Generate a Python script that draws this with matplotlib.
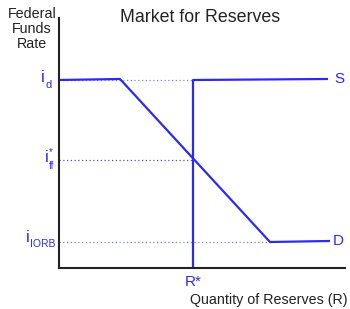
import matplotlib
matplotlib.use("Agg")
import matplotlib.pyplot as plt

plt.rcParams['font.family'] = ['Liberation Sans', 'DejaVu Sans']

# Data (conceptual units)
demand_x = [0, 61, 211, 271]
demand_y = [188, 189, 26, 27]
supply_x = [134, 134, 269]
supply_y = [0, 188, 189]
r_star = 134
i_d = 188
i_ff = 108
i_iorb = 26

blue = '#2b2bf0'

fig = plt.figure(figsize=(3.5, 3.09), dpi=100)
ax = fig.add_axes([59/350, 41/309, 286/350, 250/309])
ax.set_xlim(0, 286)
ax.set_ylim(0, 250)
for s in ['top', 'right']:
    ax.spines[s].set_visible(False)
for s in ['left', 'bottom']:
    ax.spines[s].set_linewidth(1.5)
    ax.spines[s].set_color('#222222')
ax.set_xticks([])
ax.set_yticks([])

# dotted guides
ax.plot([0, r_star], [i_d, i_d], color='#8080e0', lw=0.9, ls=(0, (1, 2)))
ax.plot([0, r_star], [i_ff, i_ff], color='#5050b0', lw=0.9, ls=(0, (1, 2)))
ax.plot([0, demand_x[2]], [i_iorb, i_iorb], color='#8080e0', lw=0.9, ls=(0, (1, 2)))

ax.plot(demand_x, demand_y, color=blue, lw=1.6, solid_capstyle='butt')
ax.plot(supply_x, supply_y, color=blue, lw=1.6, solid_capstyle='butt')

# curve labels
ax.text(supply_x[-1] + 6, supply_y[-1], 'S', color=blue, fontsize=11, va='center', ha='left')
ax.text(demand_x[-1] + 3, demand_y[-1], 'D', color=blue, fontsize=11, va='center', ha='left')

# axis value labels
ax.text(-14, i_d + 3, 'i', color=blue, fontsize=12, va='center', ha='right')
ax.text(-14, i_d - 5, 'd', color=blue, fontsize=8, va='center', ha='left')
ax.text(-10, i_ff + 3, 'i', color=blue, fontsize=12, va='center', ha='right')
ax.text(-10, i_ff + 8, '*', color=blue, fontsize=7, va='center', ha='left')
ax.text(-10, i_ff - 6, 'ff', color=blue, fontsize=7, va='center', ha='left')
ax.text(-29, i_iorb + 4, 'i', color=blue, fontsize=12, va='center', ha='right')
ax.text(-29, i_iorb - 2, 'IORB', color=blue, fontsize=7.5, va='center', ha='left')
ax.text(r_star, -7, 'R*', color=blue, fontsize=11, va='top', ha='center')

fig.text(200/350, 1 - 18/309, 'Market for Reserves', fontsize=12.8, ha='center', va='center', color='#222222')
fig.text(32/350, 1 - 29/309, 'Federal\nFunds\nRate', fontsize=10.3, ha='center', va='center',
         linespacing=1.1, color='#222222')
fig.text(269/350, 1 - 300/309, 'Quantity of Reserves (R)', fontsize=10.3, ha='center', va='center', color='#222222')

fig.savefig('out.png', dpi=100)
